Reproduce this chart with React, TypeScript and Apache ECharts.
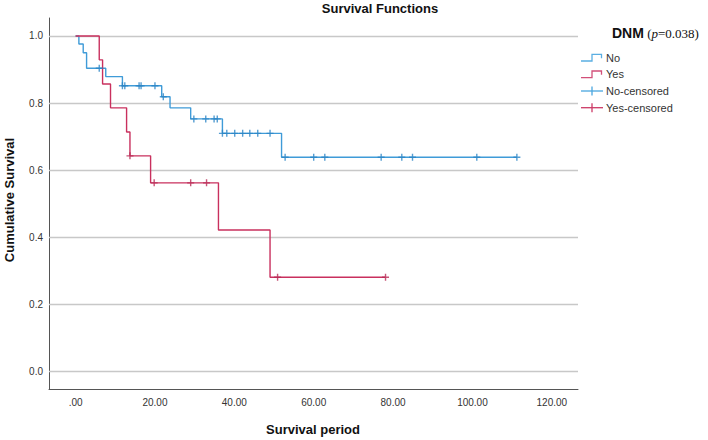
import React, { useEffect, useRef } from "react";
import * as echarts from "echarts";

// Kaplan–Meier step data (time, cumulative survival after the event)
const noTimes = [0, 0.83, 1.92, 2.77, 7.6, 11.8, 21.7, 23.8, 29.0, 37.0, 51.9, 111.2];
const noSurv = [1, 0.976, 0.95, 0.904, 0.879, 0.852, 0.819, 0.786, 0.753, 0.71, 0.639, 0.639];
const yesTimes = [0, 5.96, 6.8, 8.8, 12.85, 13.7, 18.9, 36.0, 49.0, 78.1];
const yesSurv = [1, 0.929, 0.857, 0.786, 0.714, 0.643, 0.5625, 0.4219, 0.2813, 0.2813];

// censored observation times
const noCensorTimes = [5.96, 11.8, 12.4, 16.0, 16.5, 20.0, 22.1, 29.8, 32.8, 34.9, 35.7, 37.0, 38.1, 40.1, 42.1, 43.9, 45.9, 49.0, 52.8, 60.0, 62.8, 77.0, 82.2, 84.9, 101.1, 111.2];
const yesCensorTimes = [13.7, 19.8, 29.0, 33.0, 50.9, 78.1];

const xTicks = [0, 20, 40, 60, 80, 100, 120];
const yTicks = [0, 0.2, 0.4, 0.6, 0.8, 1.0];

const legendNames = ["No", "Yes", "No-censored", "Yes-censored"];

const BLUE = "#3f9bd8";
const RED = "#c9305e";
const BLUE_C = "#2b84c6";
const RED_C = "#b82a55";
const FONT = "'Liberation Sans', Arial, sans-serif";
const SERIF = "'Liberation Serif', 'Times New Roman', serif";

function survAt(times: number[], surv: number[], t: number) {
  let s = surv[0];
  for (let i = 0; i < times.length; i++) if (times[i] <= t + 1e-9) s = surv[i];
  return s;
}

const plusPath = "path://M4,0h2v4h4v2h-4v4h-2v-4h-4v-2h4z";

export default function App() {
  const ref = useRef<HTMLDivElement>(null);
  useEffect(() => {
    document.body.style.margin = "0";
    if (!ref.current) return;
    const chart = echarts.init(ref.current, null, { renderer: "svg" });
    const legendX = 581;
    const rows = [57.7, 74.3, 91, 107.7];
    const legendGraphics: any[] = [];
    // step icons
    [0, 1].forEach((i) => {
      const y = rows[i];
      legendGraphics.push({
        type: "polyline",
        shape: { points: [[legendX, y + 3.3], [legendX + 11, y + 3.3], [legendX + 11, y - 3.3], [legendX + 20.5, y - 3.3], [legendX + 20.5, y + 0.5]] },
        style: { stroke: i === 0 ? "#5aaee2" : "#d24f79", lineWidth: 1.3, fill: "none" },
      });
    });
    [0, 1].forEach((i) => {
      const y = rows[i + 2];
      const col = i === 0 ? "#4aa6df" : "#cc3a66";
      legendGraphics.push({ type: "line", shape: { x1: legendX, y1: y, x2: legendX + 22, y2: y }, style: { stroke: col, lineWidth: 1.3 } });
      legendGraphics.push({ type: "line", shape: { x1: legendX + 11, y1: y - 4.5, x2: legendX + 11, y2: y + 4.5 }, style: { stroke: col, lineWidth: 1.3 } });
    });
    legendNames.forEach((n, i) => {
      legendGraphics.push({
        type: "text",
        x: 606,
        y: rows[i],
        style: { text: n, font: `11px ${FONT}`, fill: "#333", textVerticalAlign: "middle" },
      });
    });

    const option: any = {
      animation: false,
      grid: { left: 49, right: 130, top: 18, bottom: 50.7, containLabel: false, outerBoundsMode: "none" },
      xAxis: {
        type: "value",
        min: -6.7,
        max: 126.6,
        axisLine: { show: true, onZero: false, lineStyle: { color: "#555", width: 1 } },
        axisTick: { show: false },
        splitLine: { show: false },
        axisLabel: {
          customValues: xTicks,
          formatter: (v: number) => (v === 0 ? ".00" : v.toFixed(2)),
          fontFamily: FONT,
          fontSize: 10,
          color: "#333",
          margin: 8,
        },
      },
      yAxis: {
        type: "value",
        min: -0.0524,
        max: 1.0536,
        axisLine: { show: true, onZero: false, lineStyle: { color: "#555", width: 1 } },
        axisTick: { show: false },
        splitLine: { show: false },
        axisLabel: {
          customValues: yTicks,
          formatter: (v: number) => v.toFixed(1),
          fontFamily: FONT,
          fontSize: 10,
          color: "#333",
          margin: 6,
        },
      },
      series: [
        {
          name: "No",
          type: "line",
          step: "end",
          symbol: "none",
          data: noTimes.map((t, i) => [t, noSurv[i]]),
          lineStyle: { color: BLUE, width: 1.4 },
          z: 3,
          markLine: {
            silent: true,
            symbol: "none",
            z: 1,
            label: { show: false },
            lineStyle: { color: "#c8c8c8", width: 1.3, type: "solid" },
            emphasis: { disabled: true },
            data: yTicks.map((v) => ({ yAxis: v })),
          },
        },
        {
          name: "Yes",
          type: "line",
          step: "end",
          symbol: "none",
          data: yesTimes.map((t, i) => [t, yesSurv[i]]),
          lineStyle: { color: RED, width: 1.4 },
          z: 3,
        },
        {
          name: "No-censored",
          type: "scatter",
          symbol: plusPath,
          symbolSize: 7,
          itemStyle: { color: BLUE_C },
          data: noCensorTimes.map((t) => [t, survAt(noTimes, noSurv, t)]),
          z: 4,
        },
        {
          name: "Yes-censored",
          type: "scatter",
          symbol: plusPath,
          symbolSize: 7,
          itemStyle: { color: RED_C },
          data: yesCensorTimes.map((t) => [t, survAt(yesTimes, yesSurv, t)]),
          z: 4,
        },
      ],
      graphic: [
        {
          type: "text",
          x: 380,
          y: 8,
          style: { text: "Survival Functions", font: `bold 13px ${FONT}`, fill: "#111", textAlign: "center", textVerticalAlign: "middle" },
        },
        {
          type: "text",
          x: 313,
          y: 429,
          style: { text: "Survival period", font: `bold 13px ${FONT}`, fill: "#111", textAlign: "center", textVerticalAlign: "middle" },
        },
        {
          type: "text",
          x: 9.5,
          y: 200,
          rotation: Math.PI / 2,
          style: { text: "Cumulative Survival", font: `bold 13px ${FONT}`, fill: "#111", textAlign: "center", textVerticalAlign: "middle" },
        },
        {
          type: "text",
          x: 612,
          y: 33,
          style: {
            text: "{b|DNM} {s|(}{i|p}{s|=0.038)}",
            textVerticalAlign: "middle",
            rich: {
              b: { font: `bold 14px ${FONT}`, fill: "#111" },
              s: { font: `13px ${SERIF}`, fill: "#111" },
              i: { font: `italic 13px ${SERIF}`, fill: "#111" },
            },
          },
        },
        ...legendGraphics,
      ],
    };
    chart.setOption(option);
    return () => chart.dispose();
  }, []);
  return <div ref={ref} style={{ width: 708, height: 440 }} />;
}
